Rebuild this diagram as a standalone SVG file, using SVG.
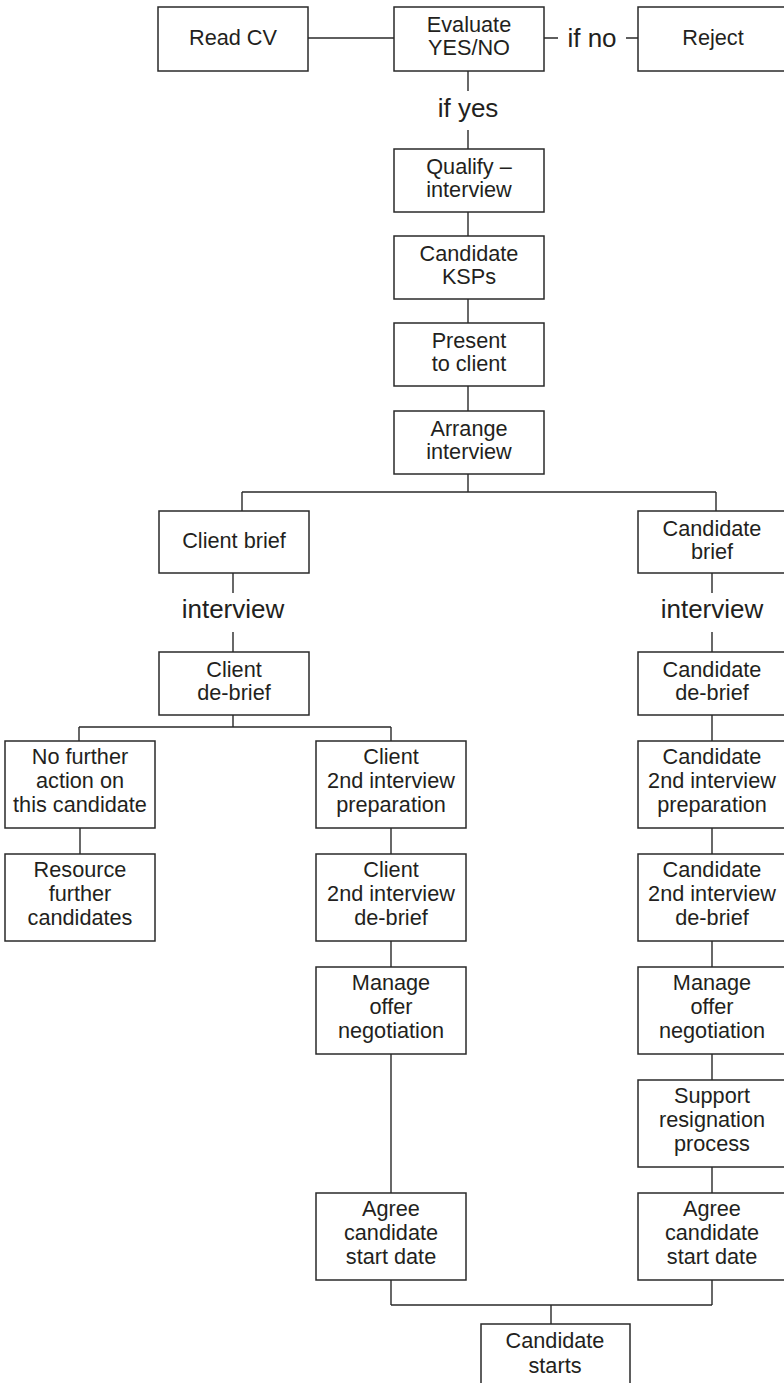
<svg xmlns="http://www.w3.org/2000/svg" width="784" height="1383" viewBox="0 0 784 1383">
<style>
.box rect{fill:#fff;stroke:#2a2a2a;stroke-width:1.5}
.box text{font-family:"Liberation Sans",Arial,sans-serif;font-size:21.7px;fill:#231f20;text-anchor:middle}
.lbl{font-family:"Liberation Sans",Arial,sans-serif;font-size:26px;fill:#231f20;text-anchor:middle}
#connectors path{fill:none;stroke:#2a2a2a;stroke-width:1.4}
</style>
<rect width="784" height="1383" fill="#fff"/>
<g id="connectors">
<path d="M308 38H394"/>
<path d="M544 38H558M626 38H638"/>
<path d="M468 71V91M468 130V149"/>
<path d="M468 212V236M468 299V323M468 386V411"/>
<path d="M468 474V492M242 492H716M242 492V511M716 492V511"/>
<path d="M233 573V593M233 632V652"/>
<path d="M712 573V593M712 632V652"/>
<path d="M233 715V727M79 727H391M79 727V741M391 727V741"/>
<path d="M80 828V854"/>
<path d="M391 828V854M391 941V967M391 1054V1193"/>
<path d="M712 715V741M712 828V854M712 941V967M712 1054V1080M712 1167V1193"/>
<path d="M391 1280V1305M712 1280V1305M391 1305H712M551 1305V1324"/>
</g>
<g id="labels">
<text class="lbl" x="592" y="47">if no</text>
<text class="lbl" x="468" y="117">if yes</text>
<text class="lbl" x="233" y="618">interview</text>
<text class="lbl" x="712" y="618">interview</text>
</g>
<g id="read-cv" class="box"><rect x="158" y="7" width="150" height="64"/><text x="233" y="45">Read CV</text></g>
<g id="evaluate" class="box"><rect x="394" y="7" width="150" height="64"/><text x="469" y="32">Evaluate</text><text x="469" y="55">YES/NO</text></g>
<g id="reject" class="box"><rect x="638" y="7" width="150" height="64"/><text x="713" y="45">Reject</text></g>
<g id="qualify" class="box"><rect x="394" y="149" width="150" height="63"/><text x="469" y="174">Qualify –</text><text x="469" y="197">interview</text></g>
<g id="ksps" class="box"><rect x="394" y="236" width="150" height="63"/><text x="469" y="261">Candidate</text><text x="469" y="284">KSPs</text></g>
<g id="present" class="box"><rect x="394" y="323" width="150" height="63"/><text x="469" y="348">Present</text><text x="469" y="371">to client</text></g>
<g id="arrange" class="box"><rect x="394" y="411" width="150" height="63"/><text x="469" y="436">Arrange</text><text x="469" y="459">interview</text></g>
<g id="client-brief" class="box"><rect x="159" y="511" width="150" height="62"/><text x="234" y="548">Client brief</text></g>
<g id="candidate-brief" class="box"><rect x="638" y="511" width="150" height="62"/><text x="712" y="536">Candidate</text><text x="712" y="559">brief</text></g>
<g id="client-debrief" class="box"><rect x="159" y="652" width="150" height="63"/><text x="234" y="677">Client</text><text x="234" y="700">de-brief</text></g>
<g id="candidate-debrief" class="box"><rect x="638" y="652" width="150" height="63"/><text x="712" y="677">Candidate</text><text x="712" y="700">de-brief</text></g>
<g id="no-further" class="box"><rect x="5" y="741" width="150" height="87"/><text x="80" y="764">No further</text><text x="80" y="788">action on</text><text x="80" y="812">this candidate</text></g>
<g id="resource" class="box"><rect x="5" y="854" width="150" height="87"/><text x="80" y="877">Resource</text><text x="80" y="901">further</text><text x="80" y="925">candidates</text></g>
<g id="client-2nd-prep" class="box"><rect x="316" y="741" width="150" height="87"/><text x="391" y="764">Client</text><text x="391" y="788">2nd interview</text><text x="391" y="812">preparation</text></g>
<g id="client-2nd-debrief" class="box"><rect x="316" y="854" width="150" height="87"/><text x="391" y="877">Client</text><text x="391" y="901">2nd interview</text><text x="391" y="925">de-brief</text></g>
<g id="client-offer" class="box"><rect x="316" y="967" width="150" height="87"/><text x="391" y="990">Manage</text><text x="391" y="1014">offer</text><text x="391" y="1038">negotiation</text></g>
<g id="client-agree" class="box"><rect x="316" y="1193" width="150" height="87"/><text x="391" y="1216">Agree</text><text x="391" y="1240">candidate</text><text x="391" y="1264">start date</text></g>
<g id="cand-2nd-prep" class="box"><rect x="638" y="741" width="150" height="87"/><text x="712" y="764">Candidate</text><text x="712" y="788">2nd interview</text><text x="712" y="812">preparation</text></g>
<g id="cand-2nd-debrief" class="box"><rect x="638" y="854" width="150" height="87"/><text x="712" y="877">Candidate</text><text x="712" y="901">2nd interview</text><text x="712" y="925">de-brief</text></g>
<g id="cand-offer" class="box"><rect x="638" y="967" width="150" height="87"/><text x="712" y="990">Manage</text><text x="712" y="1014">offer</text><text x="712" y="1038">negotiation</text></g>
<g id="support-resignation" class="box"><rect x="638" y="1080" width="150" height="87"/><text x="712" y="1103">Support</text><text x="712" y="1127">resignation</text><text x="712" y="1151">process</text></g>
<g id="cand-agree" class="box"><rect x="638" y="1193" width="150" height="87"/><text x="712" y="1216">Agree</text><text x="712" y="1240">candidate</text><text x="712" y="1264">start date</text></g>
<g id="candidate-starts" class="box"><rect x="481" y="1324" width="149" height="66"/><text x="555" y="1348">Candidate</text><text x="555" y="1373">starts</text></g>
</svg>
